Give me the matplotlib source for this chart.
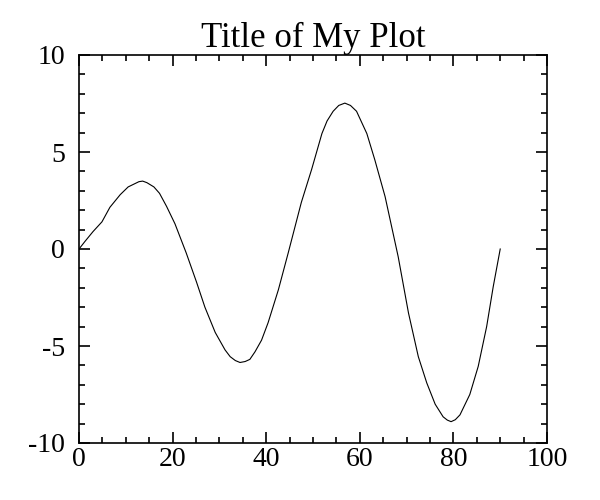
import matplotlib
matplotlib.use("Agg")
import matplotlib.pyplot as plt
from matplotlib.ticker import MultipleLocator

# values
x_vals = [0, 1.3, 3.0, 4.9, 6.6, 8.8, 10.5, 12.8, 13.6, 14.5, 16.0, 17.2, 18.7, 20.5, 22.9,
          25.1, 26.9, 29.1, 31.2, 32.3, 33.4, 34.4, 35.5, 36.5, 37.6, 39.0, 40.4, 42.6, 44.7,
          47.5, 49.7, 51.9, 53.0, 54.3, 55.5, 56.8, 58.0, 59.3, 61.5, 63.2, 65.4, 68.2, 70.4,
          72.5, 74.3, 76.1, 77.8, 78.7, 79.5, 80.4, 81.4, 83.5, 85.3, 87.1, 88.5, 90]
y_vals = [0, 0.4, 0.9, 1.4, 2.15, 2.8, 3.2, 3.47, 3.5, 3.42, 3.2, 2.87, 2.2, 1.3, -0.2,
          -1.7, -3.0, -4.3, -5.2, -5.55, -5.75, -5.85, -5.8, -5.69, -5.3, -4.7, -3.8, -2.1, -0.2,
          2.4, 4.1, 5.95, 6.6, 7.1, 7.4, 7.52, 7.4, 7.1, 5.95, 4.6, 2.7, -0.4, -3.3,
          -5.55, -6.9, -8.0, -8.65, -8.82, -8.9, -8.8, -8.55, -7.5, -6.05, -4.0, -1.95, 0]

title = "Title of My Plot"
x_ticks = [0, 20, 40, 60, 80, 100]
y_ticks = [-10, -5, 0, 5, 10]

plt.rcParams['font.family'] = ['Liberation Serif', 'DejaVu Serif']
plt.rcParams['axes.unicode_minus'] = False

fig = plt.figure(figsize=(6, 5), dpi=100)
ax = fig.add_axes([0.1317, 0.114, 0.78, 0.776])

ax.plot(x_vals, y_vals, color='black', linewidth=0.8)

ax.set_xlim(0, 100)
ax.set_ylim(-10, 10)
ax.set_xticks(x_ticks)
ax.set_yticks(y_ticks)
ax.set_xticklabels([str(v) for v in x_ticks])
ax.set_yticklabels([str(v) for v in y_ticks])
ax.xaxis.set_minor_locator(MultipleLocator(5))
ax.yaxis.set_minor_locator(MultipleLocator(1))

ax.tick_params(which='both', direction='in', top=True, right=True,
               labelsize=20, width=1.2, color='black')
ax.tick_params(which='major', length=8)
ax.tick_params(which='minor', length=4.5)
ax.tick_params(axis='x', pad=3)
ax.tick_params(axis='y', pad=10)

for sp in ax.spines.values():
    sp.set_linewidth(1.2)

ax.set_title(title, fontsize=25, pad=4)

fig.savefig("out.png", dpi=100)
